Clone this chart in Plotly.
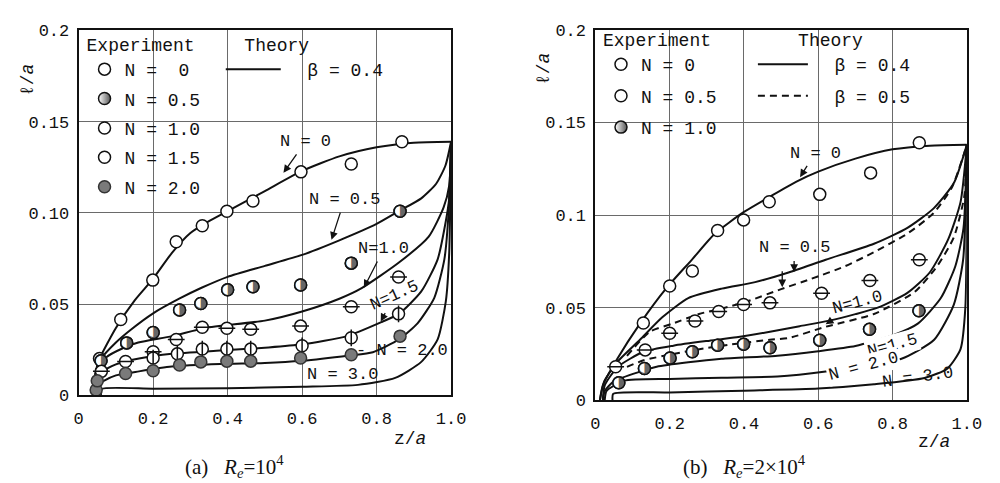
import plotly.graph_objects as go

# ---------------- (a) Re = 1e4 : experiment ----------------
A_N0_X = [0.056, 0.113, 0.199, 0.262, 0.332, 0.398, 0.468, 0.597, 0.732, 0.868]
A_N0_Y = [0.0202, 0.0416, 0.0632, 0.0842, 0.093, 0.1009, 0.1065, 0.1225, 0.1268, 0.139]
A_N05_X = [0.06, 0.129, 0.2, 0.271, 0.328, 0.4, 0.468, 0.596, 0.732, 0.863]
A_N05_Y = [0.019, 0.0288, 0.0345, 0.0468, 0.0504, 0.0579, 0.0596, 0.0605, 0.0725, 0.1009]
A_N10_X = [0.061, 0.126, 0.2, 0.262, 0.332, 0.398, 0.462, 0.596, 0.732, 0.859]
A_N10_Y = [0.0132, 0.0186, 0.024, 0.0307, 0.0374, 0.0368, 0.0363, 0.038, 0.0486, 0.0649]
A_N15_X = [0.2, 0.265, 0.332, 0.398, 0.462, 0.6, 0.732, 0.859]
A_N15_Y = [0.0205, 0.0228, 0.0254, 0.0254, 0.0254, 0.0272, 0.0316, 0.0447]
A_N20_X = [0.047, 0.05, 0.126, 0.2, 0.271, 0.328, 0.398, 0.462, 0.596, 0.732, 0.863]
A_N20_Y = [0.003, 0.008, 0.012, 0.0135, 0.0167, 0.0184, 0.0188, 0.0188, 0.0205, 0.0223, 0.0325]

# ---------------- (a) theory, beta = 0.4 ----------------
A_T0_X = [0.04, 0.045, 0.056, 0.1, 0.15, 0.2, 0.25, 0.3, 0.35, 0.4, 0.5, 0.6, 0.7, 0.8, 0.9, 1.0]
A_T0_Y = [0.0, 0.012, 0.02, 0.037, 0.052, 0.064, 0.078, 0.089, 0.0955, 0.101, 0.112, 0.123, 0.131, 0.136, 0.1385, 0.139]
A_T05_X = [0.04, 0.045, 0.06, 0.1, 0.14, 0.2, 0.27, 0.33, 0.4, 0.5, 0.6, 0.7, 0.8, 0.86, 0.92, 0.96, 0.985, 1.0]
A_T05_Y = [0.0, 0.012, 0.02, 0.029, 0.036, 0.045, 0.053, 0.059, 0.065, 0.071, 0.077, 0.085, 0.094, 0.101, 0.108, 0.116, 0.126, 0.139]
A_T10_X = [0.04, 0.045, 0.075, 0.12, 0.16, 0.25, 0.34, 0.5, 0.6, 0.7, 0.76, 0.86, 0.94, 0.98, 0.995, 1.0]
A_T10_Y = [0.0, 0.01, 0.021, 0.026, 0.029, 0.0325, 0.037, 0.041, 0.046, 0.053, 0.0588, 0.0728, 0.087, 0.103, 0.115, 0.139]
A_T15_X = [0.04, 0.045, 0.066, 0.1, 0.162, 0.25, 0.38, 0.51, 0.6, 0.72, 0.815, 0.86, 0.92, 0.964, 0.986, 0.995, 1.0]
A_T15_Y = [0.0, 0.007, 0.0132, 0.017, 0.0202, 0.0228, 0.0246, 0.0263, 0.028, 0.0325, 0.0404, 0.0447, 0.057, 0.0746, 0.0956, 0.108, 0.139]
A_T20_X = [0.04, 0.045, 0.066, 0.1, 0.162, 0.25, 0.38, 0.5, 0.6, 0.727, 0.79, 0.86, 0.91, 0.955, 0.982, 0.993, 1.0]
A_T20_Y = [0.0, 0.005, 0.0079, 0.011, 0.0132, 0.0158, 0.0172, 0.0178, 0.019, 0.0219, 0.0237, 0.0307, 0.0395, 0.0535, 0.0746, 0.099, 0.139]
A_T30_X = [0.06, 0.062, 0.2, 0.4, 0.6, 0.75, 0.85, 0.92, 0.964, 0.986, 0.995, 1.0]
A_T30_Y = [0.0, 0.0035, 0.0037, 0.004, 0.0048, 0.0058, 0.0096, 0.0184, 0.0307, 0.0517, 0.078, 0.139]

# ---------------- (b) Re = 2e4 : experiment ----------------
B_N0_X = [0.129, 0.2, 0.261, 0.329, 0.399, 0.468, 0.604, 0.741, 0.872]
B_N0_Y = [0.0417, 0.0617, 0.0698, 0.0917, 0.0974, 0.1072, 0.1112, 0.1228, 0.1391]
B_N05_X = [0.0545, 0.134, 0.2, 0.268, 0.332, 0.399, 0.47, 0.609, 0.739, 0.872]
B_N05_Y = [0.0181, 0.0272, 0.0362, 0.0428, 0.0479, 0.0517, 0.0526, 0.0578, 0.0647, 0.0759]
B_N10_X = [0.063, 0.132, 0.201, 0.261, 0.329, 0.399, 0.47, 0.604, 0.738, 0.871]
B_N10_Y = [0.0095, 0.0172, 0.0228, 0.0262, 0.0297, 0.0302, 0.0284, 0.0324, 0.0383, 0.0483]

# ---------------- (b) theory ----------------
B_T0_X = [0.012, 0.02, 0.059, 0.12, 0.19, 0.26, 0.32, 0.4, 0.47, 0.54, 0.6, 0.7, 0.8, 0.9, 1.0]
B_T0_Y = [0.0, 0.008, 0.0224, 0.0414, 0.0603, 0.076, 0.0897, 0.1017, 0.110, 0.118, 0.1235, 0.1305, 0.1355, 0.1375, 0.138]
B_T05_X = [0.012, 0.024, 0.059, 0.12, 0.18, 0.25, 0.34, 0.43, 0.52, 0.62, 0.75, 0.84, 0.91, 0.965, 1.0]
B_T05_Y = [0.0, 0.0103, 0.0207, 0.0327, 0.0448, 0.0552, 0.0603, 0.0638, 0.069, 0.0759, 0.0845, 0.0931, 0.1035, 0.1173, 0.138]
B_T05D_X = [0.085, 0.147, 0.208, 0.279, 0.34, 0.41, 0.5, 0.58, 0.67, 0.75, 0.84, 0.91, 0.96, 1.0]
B_T05D_Y = [0.024, 0.0371, 0.0414, 0.0466, 0.0495, 0.0535, 0.060, 0.0655, 0.0722, 0.080, 0.090, 0.101, 0.115, 0.138]
B_T10_X = [0.02, 0.025, 0.06, 0.13, 0.21, 0.3, 0.38, 0.47, 0.55, 0.63, 0.7, 0.76, 0.84, 0.9, 0.95, 0.983, 1.0]
B_T10_Y = [0.0, 0.008, 0.018, 0.0262, 0.0295, 0.032, 0.034, 0.037, 0.040, 0.043, 0.0465, 0.050, 0.058, 0.069, 0.087, 0.107, 0.138]
B_T10D_X = [0.085, 0.13, 0.21, 0.28, 0.36, 0.47, 0.52, 0.62, 0.75, 0.86, 0.92, 0.965, 0.993, 1.0]
B_T10D_Y = [0.018, 0.0216, 0.025, 0.0276, 0.030, 0.0327, 0.0336, 0.0397, 0.0466, 0.0586, 0.0724, 0.088, 0.11, 0.138]
B_T15_X = [0.02, 0.025, 0.05, 0.121, 0.165, 0.25, 0.34, 0.49, 0.6, 0.7, 0.8, 0.868, 0.93, 0.969, 0.991, 1.0]
B_T15_Y = [0.0, 0.005, 0.0103, 0.0155, 0.0181, 0.0205, 0.0224, 0.0241, 0.0265, 0.0293, 0.035, 0.0414, 0.0552, 0.0724, 0.093, 0.138]
B_T20_X = [0.025, 0.03, 0.077, 0.2, 0.34, 0.49, 0.62, 0.73, 0.824, 0.912, 0.965, 0.99, 1.0]
B_T20_Y = [0.0, 0.005, 0.0105, 0.0115, 0.0122, 0.0128, 0.0155, 0.019, 0.0224, 0.0327, 0.0517, 0.0759, 0.138]
B_T30_X = [0.046, 0.048, 0.2, 0.4, 0.6, 0.75, 0.886, 0.948, 0.983, 0.996, 1.0]
B_T30_Y = [0.0, 0.0035, 0.0042, 0.0052, 0.0063, 0.0086, 0.012, 0.0172, 0.0276, 0.05, 0.138]

X_TICKS = [0, 0.2, 0.4, 0.6, 0.8, 1.0]
X_TICKTEXT = ["0", "0.2", "0.4", "0.6", "0.8", "1.0"]
Y_TICKS = [0, 0.05, 0.10, 0.15, 0.2]
A_Y_TICKTEXT = ["0", "0.05", "0.10", "0.15", "0.2"]
B_Y_TICKTEXT = ["0", "0.05", "0.1", "0.15", "0.2"]

MONO = "Liberation Mono"
SERIF = "Liberation Serif"
INK = "#111111"
GRAY = "#7a7a7a"
NB = "\u00a0"

fig = go.Figure()


def curve(x, y, xa, ya, dash="solid", name=None, legend=None):
    fig.add_trace(go.Scatter(
        x=x, y=y, mode="lines", xaxis=xa, yaxis=ya,
        line=dict(color=INK, width=2, dash=dash, shape="spline", smoothing=0.6),
        name=name or "", showlegend=name is not None, legend=legend,
        legendgroup=name, hoverinfo="skip"))


def exp_points(x, y, xa, ya, kind, name, legend):
    base_line = dict(color=INK, width=1.5)
    if kind == "fill":
        m = dict(symbol="circle", color=GRAY, size=12, line=dict(color="#333333", width=1.5))
    elif kind == "half":
        m = dict(symbol="circle", color="white", size=12,
                 gradient=dict(type="horizontal", color="#555555"), line=base_line)
    else:
        m = dict(symbol="circle", color="white", size=12, line=base_line)
    fig.add_trace(go.Scatter(x=x, y=y, mode="markers", xaxis=xa, yaxis=ya, marker=m,
                             name=name, legend=legend, legendgroup=name, hoverinfo="skip"))
    if kind in ("hbar", "vbar"):
        sym = "line-ew" if kind == "hbar" else "line-ns"
        fig.add_trace(go.Scatter(x=x, y=y, mode="markers", xaxis=xa, yaxis=ya,
                                 marker=dict(symbol=sym, size=12, line=dict(color=INK, width=1.5)),
                                 showlegend=False, hoverinfo="skip"))
    if kind == "half":
        # white base, right-half-filled glyph, black outline
        fig.add_trace(go.Scatter(x=x, y=y, mode="markers", xaxis=xa, yaxis=ya,
                                 marker=dict(symbol="circle", color="white", size=12,
                                             line=dict(width=0)),
                                 showlegend=False, hoverinfo="skip"))
        fig.add_trace(go.Scatter(x=x, y=y, mode="text", xaxis=xa, yaxis=ya,
                                 text=["\u25d1"] * len(x), textposition="middle center",
                                 textfont=dict(family="DejaVu Sans", size=16, color="#666666"),
                                 showlegend=False, hoverinfo="skip"))
        fig.add_trace(go.Scatter(x=x, y=y, mode="markers", xaxis=xa, yaxis=ya,
                                 marker=dict(symbol="circle-open", size=12, color=INK,
                                             line=dict(color=INK, width=1.5)),
                                 showlegend=False, hoverinfo="skip"))


# ---- panel (a)
curve(A_T0_X, A_T0_Y, "x", "y", name=NB * 2 + "\u03b2 = 0.4", legend="legend2")
for cx, cy in [(A_T05_X, A_T05_Y), (A_T10_X, A_T10_Y),
               (A_T15_X, A_T15_Y), (A_T20_X, A_T20_Y), (A_T30_X, A_T30_Y)]:
    curve(cx, cy, "x", "y")
exp_points(A_N0_X, A_N0_Y, "x", "y", "open", "N =" + NB * 2 + "0", "legend")
exp_points(A_N05_X, A_N05_Y, "x", "y", "half", "N = 0.5", "legend")
exp_points(A_N10_X, A_N10_Y, "x", "y", "hbar", "N = 1.0", "legend")
exp_points(A_N15_X, A_N15_Y, "x", "y", "vbar", "N = 1.5", "legend")
exp_points(A_N20_X, A_N20_Y, "x", "y", "fill", "N = 2.0", "legend")

# ---- panel (b)
curve(B_T0_X, B_T0_Y, "x2", "y2", name=NB * 2 + "\u03b2 = 0.4 ", legend="legend4")
for cx, cy in [(B_T05_X, B_T05_Y), (B_T10_X, B_T10_Y),
               (B_T15_X, B_T15_Y), (B_T20_X, B_T20_Y), (B_T30_X, B_T30_Y)]:
    curve(cx, cy, "x2", "y2")
curve(B_T05D_X, B_T05D_Y, "x2", "y2", dash="7px,5px", name=NB * 2 + "\u03b2 = 0.5", legend="legend4")
curve(B_T10D_X, B_T10D_Y, "x2", "y2", dash="7px,5px")
exp_points(B_N0_X, B_N0_Y, "x2", "y2", "open", "N = 0", "legend3")
exp_points(B_N05_X, B_N05_Y, "x2", "y2", "hbar", "N = 0.5", "legend3")
exp_points(B_N10_X, B_N10_Y, "x2", "y2", "half", "N = 1.0", "legend3")

axis_common = dict(showline=True, mirror=True, linecolor=INK, linewidth=2,
                   showgrid=True, gridcolor="#6a6a6a", gridwidth=1, zeroline=False,
                   ticks="", tickfont=dict(family=MONO, size=17, color=INK))

fig.update_layout(
    width=1000, height=483, margin=dict(l=0, r=0, t=0, b=0),
    paper_bgcolor="white", plot_bgcolor="white", showlegend=True,
    xaxis=dict(domain=[0.067, 0.447], range=[0, 1.0], tickvals=X_TICKS, ticktext=X_TICKTEXT,
               anchor="y", ticklabelstandoff=6, **axis_common),
    yaxis=dict(domain=[1 - 395 / 483, 1 - 15 / 483], range=[0, 0.2], tickvals=Y_TICKS,
               ticktext=A_Y_TICKTEXT, anchor="x", ticklabelstandoff=4, **axis_common),
    xaxis2=dict(domain=[0.5943, 0.9733], range=[0, 1.0], tickvals=X_TICKS, ticktext=X_TICKTEXT,
                anchor="y2", ticklabelstandoff=6, **axis_common),
    yaxis2=dict(domain=[1 - 400 / 483, 1 - 14.5 / 483], range=[0, 0.2], tickvals=Y_TICKS,
                ticktext=B_Y_TICKTEXT, anchor="x2", ticklabelstandoff=4, **axis_common),
)

leg_font = dict(family=MONO, size=18, color=INK)
leg_common = dict(xanchor="left", yanchor="top", bgcolor="rgba(0,0,0,0)", borderwidth=0,
                  font=leg_font, traceorder="grouped")
fig.update_layout(
    legend=dict(x=0.073, y=1 - 12 / 483, tracegroupgap=3,
                title=dict(text="Experiment", font=leg_font), **leg_common),
    legend2=dict(x=0.212, y=1 - 12 / 483, itemwidth=55, tracegroupgap=3,
                 title=dict(text=NB * 2 + "Theory", font=leg_font), **leg_common),
    legend3=dict(x=0.600, y=1 - 7 / 483, tracegroupgap=5,
                 title=dict(text="Experiment", font=leg_font), **leg_common),
    legend4=dict(x=0.755, y=1 - 7 / 483, itemwidth=50, tracegroupgap=5,
                 title=dict(text=NB * 4 + "Theory", font=leg_font), **leg_common),
)

ann_font = dict(family=MONO, size=17, color=INK)
arrow = dict(showarrow=True, arrowhead=2, arrowsize=1.2, arrowwidth=1.3, arrowcolor=INK,
             standoff=0, startstandoff=2, font=ann_font)
pfont18 = dict(family=MONO, size=18, color=INK)
anns = [
    # panel (a)
    dict(x=0.55, y=0.122, xref="x", yref="y", text="N = 0", ax=22, ay=-31, **arrow),
    dict(x=0.679, y=0.0853, xref="x", yref="y", text="N = 0.5", ax=13, ay=-40, **arrow),
    dict(x=0.766, y=0.059, xref="x", yref="y", text="N=1.0", ax=20, ay=-39, **arrow),
    dict(x=0.811, y=0.0405, xref="x", yref="y", text="N=1.5", ax=14, ay=-26, textangle=-24, **arrow),
    dict(x=0.868, y=0.0247, xref="x", yref="y", text="- N = 2.0", showarrow=False, font=ann_font),
    dict(x=0.708, y=0.0116, xref="x", yref="y", text="N = 3.0", showarrow=False, font=ann_font),
    # panel (b)
    dict(x=0.551, y=0.1205, xref="x2", yref="y2", text="N = 0", ax=15, ay=-24, **arrow),
    dict(x=0.535, y=0.0693, xref="x2", yref="y2", text="N = 0.5", ax=0, ay=-24, **arrow),
    dict(x=0.503, y=0.061, xref="x2", yref="y2", text=" ", ax=0, ay=-26, showarrow=True,
         arrowhead=2, arrowsize=1.2, arrowwidth=1.3, arrowcolor=INK, standoff=0),
    dict(x=0.62, y=0.041, xref="x2", yref="y2", text="N=1.0", ax=32, ay=-22, textangle=-15, **arrow),
    dict(x=0.80, y=0.0295, xref="x2", yref="y2", text="N=1.5", showarrow=False, textangle=-15,
         font=ann_font, bgcolor="white"),
    dict(x=0.722, y=0.018, xref="x2", yref="y2", text="N = 2.0", showarrow=False, textangle=-15,
         font=ann_font, bgcolor="white"),
    dict(x=0.868, y=0.0125, xref="x2", yref="y2", text="N = 3.0", showarrow=False, textangle=-8,
         font=ann_font),
    # axis titles
    dict(x=0.405, y=1 - 440 / 483, text="z/<i>a</i>", font=pfont18),
    dict(x=0.94, y=1 - 443 / 483, text="z/<i>a</i>", font=pfont18),
    dict(x=0.016, y=1 - 67 / 483, text="\u2113/<i>a</i>", textangle=-90, font=pfont18),
    dict(x=0.542, y=1 - 55 / 483, text="\u2113/<i>a</i>", textangle=-90, font=pfont18),
    # captions
    dict(x=0.226, y=1 - 469 / 483,
         text="(a)" + NB * 3 + "<i>R<sub>e</sub></i>=10<sup>4</sup>",
         font=dict(family=SERIF, size=21, color=INK)),
    dict(x=0.746, y=1 - 469 / 483,
         text="(b)" + NB * 3 + "<i>R<sub>e</sub></i>=2\u00d710<sup>4</sup>",
         font=dict(family=SERIF, size=21, color=INK)),
]
for a in anns:
    if "xref" not in a:
        a.update(xref="paper", yref="paper", showarrow=False, xanchor="center", yanchor="middle")
fig.update_layout(annotations=anns)

fig.write_html("out.html")
